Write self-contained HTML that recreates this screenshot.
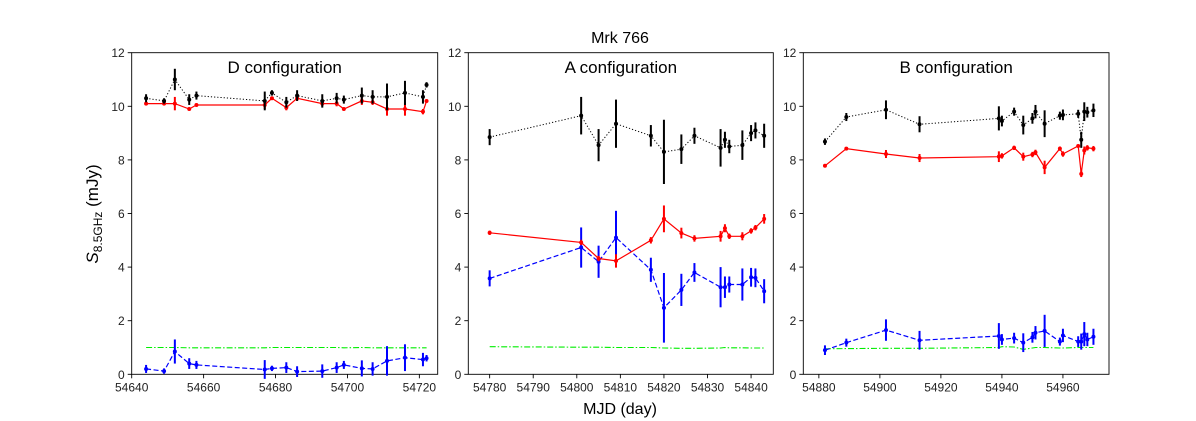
<!DOCTYPE html>
<html><head><meta charset="utf-8"><style>
body{margin:0;background:#fff;}
svg{display:block;font-family:"Liberation Sans","DejaVu Sans",sans-serif;}
</style></head><body>
<svg id="chart" width="1196" height="421" viewBox="0 0 1196 421">
<text x="620" y="43" font-size="16" text-anchor="middle">Mrk 766</text>
<text x="620" y="414" font-size="16" text-anchor="middle">MJD (day)</text>
<text transform="translate(98,214) rotate(-90)" font-size="17" text-anchor="middle"><tspan font-style="italic">S</tspan><tspan font-size="12" dy="4">8.5GHz</tspan><tspan dy="-4"> (mJy)</tspan></text>
</svg>
<script>
// Panel D
const dX=[54644,54649,54652,54656,54658,54677,54679,54683,54686,54693,54697,54699,54704,54707,54711,54716,54721,54722];
const dBlack=[10.3,10.2,11.0,10.25,10.4,10.2,10.5,10.15,10.4,10.2,10.3,10.25,10.4,10.35,10.35,10.5,10.35,10.8];
const dBlackErr=[0.15,0.1,0.4,0.2,0.15,0.35,0.1,0.2,0.2,0.25,0.2,0.15,0.3,0.25,0.5,0.45,0.25,0.1];
const dRed=[10.1,10.1,10.1,9.9,10.05,10.05,10.3,9.95,10.3,10.1,10.1,9.9,10.2,10.15,9.9,9.9,9.8,10.2];
const dRedErr=[0.05,0.05,0.25,0.05,0.05,0.15,0.05,0.1,0.1,0.1,0.1,0.05,0.15,0.1,0.25,0.25,0.1,0.05];
const dBlue=[0.2,0.12,0.85,0.4,0.35,0.18,0.22,0.25,0.1,0.12,0.25,0.35,0.22,0.2,0.5,0.62,0.55,0.6];
const dBlueErr=[0.15,0.1,0.45,0.2,0.15,0.35,0.1,0.2,0.2,0.25,0.2,0.15,0.3,0.25,0.55,0.5,0.25,0.12];
const dGreen=[1.0,1.0,1.0,0.99,0.99,0.99,1.0,1.0,1.0,1.0,1.0,0.99,1.0,0.99,0.99,0.99,0.99,0.99];
// Panel A
const aX=[54780,54801,54805,54809,54817,54820,54824,54827,54833,54834,54835,54838,54840,54841,54843];
const aBlack=[8.85,9.65,8.55,9.35,8.9,8.3,8.4,8.9,8.45,8.75,8.5,8.55,9.0,9.1,8.9];
const aBlackErr=[0.3,0.7,0.6,0.9,0.4,1.2,0.55,0.3,0.7,0.3,0.25,0.55,0.3,0.3,0.45];
const aRed=[5.28,4.92,4.32,4.23,5.0,5.8,5.27,5.07,5.15,5.45,5.15,5.15,5.35,5.47,5.8];
const aRedErr=[0.08,0.1,0.1,0.25,0.12,0.5,0.2,0.12,0.2,0.15,0.1,0.15,0.1,0.1,0.18];
const aBlue=[3.58,4.73,4.2,5.1,3.9,2.48,3.15,3.8,3.25,3.25,3.35,3.35,3.62,3.6,3.1];
const aBlueErr=[0.3,0.75,0.6,1.0,0.45,1.3,0.6,0.35,0.75,0.4,0.3,0.6,0.35,0.35,0.45];
const aGreen=[1.03,1.01,1.01,1.0,1.0,0.98,0.97,0.97,0.98,1.0,0.99,0.99,0.98,0.98,0.98];
// Panel B
const bX=[54882,54889,54902,54913,54939,54940,54944,54947,54950,54951,54954,54959,54960,54965,54966,54967,54968,54970];
const bBlack=[8.68,9.6,9.87,9.33,9.55,9.45,9.8,9.3,9.55,9.8,9.35,9.65,9.68,9.72,8.75,9.8,9.78,9.85];
const bBlackErr=[0.12,0.15,0.35,0.3,0.45,0.2,0.15,0.35,0.2,0.25,0.5,0.15,0.2,0.15,0.3,0.35,0.2,0.25];
const bRed=[7.78,8.42,8.22,8.07,8.12,8.15,8.45,8.12,8.2,8.28,7.72,8.42,8.22,8.52,7.48,8.35,8.45,8.42];
const bRedErr=[0.05,0.05,0.15,0.15,0.2,0.1,0.08,0.15,0.1,0.1,0.25,0.08,0.1,0.05,0.12,0.15,0.1,0.1];
const bBlue=[0.9,1.18,1.65,1.27,1.43,1.3,1.35,1.18,1.38,1.55,1.62,1.22,1.45,1.22,1.22,1.5,1.3,1.4];
const bBlueErr=[0.18,0.15,0.4,0.35,0.48,0.2,0.2,0.35,0.2,0.25,0.6,0.15,0.25,0.2,0.3,0.45,0.25,0.3];
const bGreen=[0.95,0.96,0.97,0.97,1.0,1.03,1.02,0.93,0.98,1.0,1.0,0.98,0.98,1.0,1.0,1.0,1.0,1.0];
const yTicks=[0,2,4,6,8,10,12];
const dTicks=[54640,54660,54680,54700,54720];
const aTicks=[54780,54790,54800,54810,54820,54830,54840];
const bTicks=[54880,54900,54920,54940,54960];

const NS="http://www.w3.org/2000/svg";
const svg=document.getElementById('chart');
function mk(tag,attrs,parent){const e=document.createElementNS(NS,tag);for(const k in attrs)e.setAttribute(k,attrs[k]);(parent||svg).appendChild(e);return e;}
const TOP=52.7,BOT=374.3;
function yS(v){return BOT-(v/12)*(BOT-TOP);}

function panel(key,title,L,R,x0,x1,ticks,X,series){
  const xS=v=>L+(v-x0)/(x1-x0)*(R-L);
  const g=mk('g',{});
  
  
  const fr=mk('rect',{x:L,y:TOP,width:R-L,height:BOT-TOP,fill:'none',stroke:'#000','stroke-width':0.9},g);
  
  
  yTicks.forEach(t=>{
    mk('line',{x1:L-4,x2:L,y1:yS(t),y2:yS(t),stroke:'#000','stroke-width':0.9},g);
    const tx=mk('text',{x:L-7,y:yS(t)+4.5,'font-size':12,'text-anchor':'end',fill:'#222'},g);
    tx.textContent=t;
    
    
  });
  ticks.forEach(t=>{
    mk('line',{x1:xS(t),x2:xS(t),y1:BOT,y2:BOT+4,stroke:'#000','stroke-width':0.9},g);
    const tx=mk('text',{x:xS(t),y:BOT+17,'font-size':12,'text-anchor':'middle',fill:'#222'},g);
    tx.textContent=t;
    
    
  });
  const tt=mk('text',{x:(L+R)/2,y:73,'font-size':17,'text-anchor':'middle'},g);
  tt.textContent=title;
  
  
  series.forEach(s=>{
    const sg=mk('g',{},g);
    
    
    const pts=X.map((x,i)=>xS(x).toFixed(1)+','+yS(s.v[i]).toFixed(1)).join(' ');
    mk('polyline',{points:pts,fill:'none',stroke:s.c,'stroke-width':s.w,'stroke-dasharray':s.d||'none'},sg);
    if(s.e){
      X.forEach((x,i)=>{
        mk('line',{x1:xS(x),x2:xS(x),y1:yS(s.v[i]-s.e[i]),y2:yS(s.v[i]+s.e[i]),stroke:s.c,'stroke-width':2},sg);
        const p=mk('circle',{cx:xS(x),cy:yS(s.v[i]),r:2,fill:s.c},sg);
        
        
      });
    }
  });
}
function mkSeries(bk,bke,rd,rde,bl,ble,gr){
  return [
    {name:'green',v:gr,c:'#00ee00',w:1.1,d:'6,2,1.5,2'},
    {name:'blue',v:bl,e:ble,c:'#0000ff',w:1.2,d:'5,2.5'},
    {name:'red',v:rd,e:rde,c:'#ff0000',w:1.2},
    {name:'black',v:bk,e:bke,c:'#000',w:1,d:'1.2,2'}
  ];
}
panel('d','D configuration',131.7,437.7,54640.0,54725.1,dTicks,dX,mkSeries(dBlack,dBlackErr,dRed,dRedErr,dBlue,dBlueErr,dGreen));
panel('a','A configuration',468.3,773.3,54775.1,54845.1,aTicks,aX,mkSeries(aBlack,aBlackErr,aRed,aRedErr,aBlue,aBlueErr,aGreen));
panel('b','B configuration',803.3,1109,54874.9,54975.1,bTicks,bX,mkSeries(bBlack,bBlackErr,bRed,bRedErr,bBlue,bBlueErr,bGreen));
</script>
</body></html>
